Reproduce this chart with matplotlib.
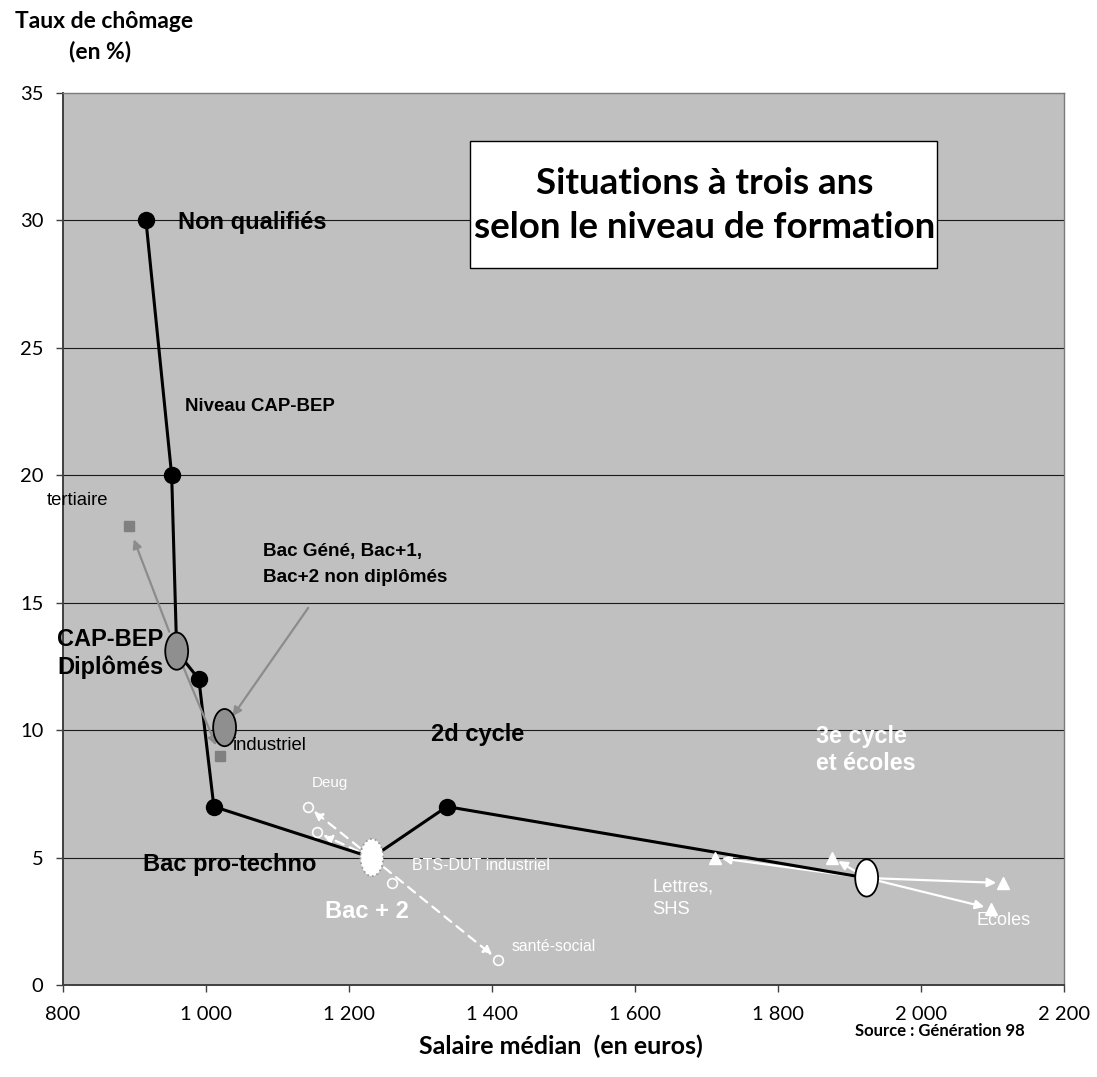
import matplotlib
matplotlib.use("Agg")
import matplotlib.pyplot as plt
from matplotlib.patches import Ellipse, Rectangle

# ---------------- data ----------------
# Main path: median salary (euros) vs unemployment rate (%) by level of training
path_salary = [916, 952, 959, 990, 1011, 1232, 1337, 1924]
path_rate = [30, 20, 13.1, 12, 7, 5.0, 7, 4.2]
path_is_group = [False, False, True, False, False, True, False, True]

# Group ellipses (CAP-BEP diplômés, Bac général..., Bac+2, 3e cycle)
group_names = ["CAP-BEP", "Bac Géné", "Bac + 2", "3e cycle"]
group_salary = [959, 1026, 1232, 1924]
group_rate = [13.1, 10.1, 5.0, 4.2]

# CAP-BEP diplômés by specialty
capbep_spec = ["tertiaire", "industriel"]
capbep_salary = [892, 1020]
capbep_rate = [18, 9]

# Bac + 2 by specialty
bac2_spec = ["Deug", "Deug (2)", "BTS-DUT industriel", "santé-social"]
bac2_salary = [1143, 1155, 1260, 1408]
bac2_rate = [7, 6, 4, 1]
bac2_arrow = [True, True, False, True]

# 3e cycle et écoles by specialty
cycle3_spec = ["Lettres, SHS", "3e cycle (2)", "3e cycle (3)", "Ecoles"]
cycle3_salary = [1712, 1876, 2115, 2098]
cycle3_rate = [5, 5, 4, 3]

x_ticks = [800, 1000, 1200, 1400, 1600, 1800, 2000, 2200]
x_tick_labels = ["800", "1 000", "1 200", "1 400", "1 600", "1 800", "2 000", "2 200"]
y_ticks = [0, 5, 10, 15, 20, 25, 30, 35]

# ---------------- figure ----------------
W, H = 1097, 1077
fig = plt.figure(figsize=(W / 100, H / 100), dpi=100)
fig.patch.set_facecolor("white")
ax = fig.add_axes([63 / W, 1 - 985 / H, (1064 - 63) / W, (985 - 93) / H])
ax.set_facecolor("#c0c0c0")
ax.set_xlim(800, 2200)
ax.set_ylim(0, 35)

tick_font = "Lato"
ax.set_xticks(x_ticks)
ax.set_xticklabels(x_tick_labels, fontsize=14.5, family=tick_font)
ax.set_yticks(y_ticks)
ax.set_yticklabels([str(v) for v in y_ticks], fontsize=14.5, family=tick_font)
ax.tick_params(axis="both", direction="out", length=5, width=1, color="#404040")
ax.tick_params(axis="x", pad=10)
ax.tick_params(axis="y", pad=9)

for y in y_ticks[1:-1]:
    ax.axhline(y, color="#1a1a1a", lw=0.8, zorder=0.5)

for side in ["left", "bottom"]:
    ax.spines[side].set_color("#404040")
    ax.spines[side].set_linewidth(1.4)
for side in ["top", "right"]:
    ax.spines[side].set_color("#7a7a7a")
    ax.spines[side].set_linewidth(1.0)

# ---------------- main path ----------------
ax.plot(path_salary, path_rate, color="black", lw=2.2, zorder=3, solid_capstyle="round")
dot_x = [s for s, g in zip(path_salary, path_is_group) if not g]
dot_y = [r for r, g in zip(path_rate, path_is_group) if not g]
ax.plot(dot_x, dot_y, "o", color="black", ms=11.5, zorder=4, ls="none")

# ---------------- group ellipses ----------------
ew, eh = 32, 1.46
face = ["#8f8f8f", "#8f8f8f", "white", "white"]
edge = ["black", "black", "#9a9a9a", "black"]
style = ["-", "-", ":", "-"]
for i in range(len(group_names)):
    ax.add_patch(Ellipse((group_salary[i], group_rate[i]), ew, eh, facecolor=face[i],
                         edgecolor=edge[i], lw=1.3, ls=style[i], zorder=6))

# ---------------- CAP-BEP specialties (grey) ----------------
ax.plot(capbep_salary, capbep_rate, "s", color="#808080", ms=7, zorder=4, ls="none")
for s, r, sA, sB in zip(capbep_salary, capbep_rate, [15, 11], [10, 8]):
    ax.annotate("", xy=(s, r), xytext=(group_salary[0], group_rate[0]),
                arrowprops=dict(arrowstyle="-|>", color="#8c8c8c", lw=1.6,
                                mutation_scale=13, shrinkA=sA, shrinkB=sB),
                zorder=3.5)
# pointer from the Bac général label to its ellipse
ax.annotate("", xy=(group_salary[1], group_rate[1]), xytext=(1143, 14.8),
            arrowprops=dict(arrowstyle="-|>", color="#8c8c8c", lw=1.6,
                            mutation_scale=13, shrinkA=0, shrinkB=10),
            zorder=3.5)

# ---------------- Bac + 2 specialties (white, dashed) ----------------
ax.plot(bac2_salary, bac2_rate, "o", mfc="none", mec="white", mew=1.2, ms=7,
        zorder=4, ls="none")
for s, r, a in zip(bac2_salary, bac2_rate, bac2_arrow):
    if a:
        ax.annotate("", xy=(s, r), xytext=(group_salary[2], group_rate[2]),
                    arrowprops=dict(arrowstyle="-|>", color="white", lw=1.6,
                                    ls=(0, (4, 3)), mutation_scale=13,
                                    shrinkA=0, shrinkB=5),
                    zorder=2.5)

# ---------------- 3e cycle specialties (white) ----------------
ax.plot(cycle3_salary, cycle3_rate, "^", color="white", ms=8, zorder=4, ls="none")
for s, r in zip(cycle3_salary, cycle3_rate):
    ax.annotate("", xy=(s, r), xytext=(group_salary[3], group_rate[3]),
                arrowprops=dict(arrowstyle="-|>", color="white", lw=1.6,
                                mutation_scale=13, shrinkA=0, shrinkB=5),
                zorder=2.5)

# ---------------- labels ----------------
sans = "Liberation Sans"
def lab(x, y, s, size, bold=False, color="black"):
    ax.text(x, y, s, fontsize=size, fontweight="bold" if bold else "normal",
            color=color, family=sans, ha="left", va="center", zorder=7)

lab(961, 29.9, "Non qualifiés", 17, True)
lab(970.6, 22.68, "Niveau CAP-BEP", 13.4, True)
lab(777.6, 19.03, "tertiaire", 13.3)
lab(1079.7, 16.99, "Bac Géné, Bac+1,", 13.6, True)
lab(1079.7, 15.97, "Bac+2 non diplômés", 13.6, True)
lab(791.6, 13.54, "CAP-BEP", 17, True)
lab(791.6, 12.48, "Diplômés", 17, True)
lab(1037.8, 9.38, "industriel", 13.3)
lab(1314.7, 9.81, "2d cycle", 17, True)
lab(911.9, 4.71, "Bac pro-techno", 17, True)
lab(1148.3, 7.93, "Deug", 10.9, color="white")
lab(1288.1, 4.67, "BTS-DUT industriel", 11.5, color="white")
lab(1166.4, 2.9, "Bac + 2", 17, True, "white")
lab(1428, 1.53, "santé-social", 11.3, color="white")
lab(1853, 9.77, "3e cycle", 16.8, True, "white")
lab(1853, 8.71, "et écoles", 16.8, True, "white")
lab(1623.8, 3.85, "Lettres,", 13.2, color="white")
lab(1623.8, 2.98, "SHS", 13.2, color="white")
lab(2077, 2.55, "Ecoles", 13, color="white")

# ---------------- title box ----------------
x0 = (470 - 63) / 1001
x1 = (937 - 63) / 1001
y0 = (985 - 268) / 892
y1 = (985 - 141) / 892
ax.add_patch(Rectangle((x0, y0), x1 - x0, y1 - y0, transform=ax.transAxes,
                       facecolor="white", edgecolor="black", lw=1.0, zorder=8))
xc = (705 - 63) / 1001
ax.text(xc, (985 - 183) / 892, "Situations à trois ans", transform=ax.transAxes,
        ha="center", va="center", fontsize=26.5, fontweight="bold", family=tick_font, zorder=9)
ax.text(xc, (985 - 228) / 892, "selon le niveau de formation", transform=ax.transAxes,
        ha="center", va="center", fontsize=26.5, fontweight="bold", family=tick_font, zorder=9)

# ---------------- axis titles ----------------
fig.text(104 / W, 1 - 22 / H, "Taux de chômage", ha="center", va="center",
         fontsize=16.5, fontweight="bold", family=tick_font)
fig.text(100 / W, 1 - 51 / H, "(en %)", ha="center", va="center",
         fontsize=16.5, fontweight="bold", family=tick_font)
fig.text(561 / W, 1 - 1046 / H, "Salaire médian  (en euros)", ha="center", va="center",
         fontsize=18, fontweight="bold", family=tick_font)
fig.text(940 / W, 1 - 1031 / H, "Source : Génération 98", ha="center", va="center",
         fontsize=12, fontweight="bold", family=tick_font)

fig.savefig("out.png", dpi=100)
